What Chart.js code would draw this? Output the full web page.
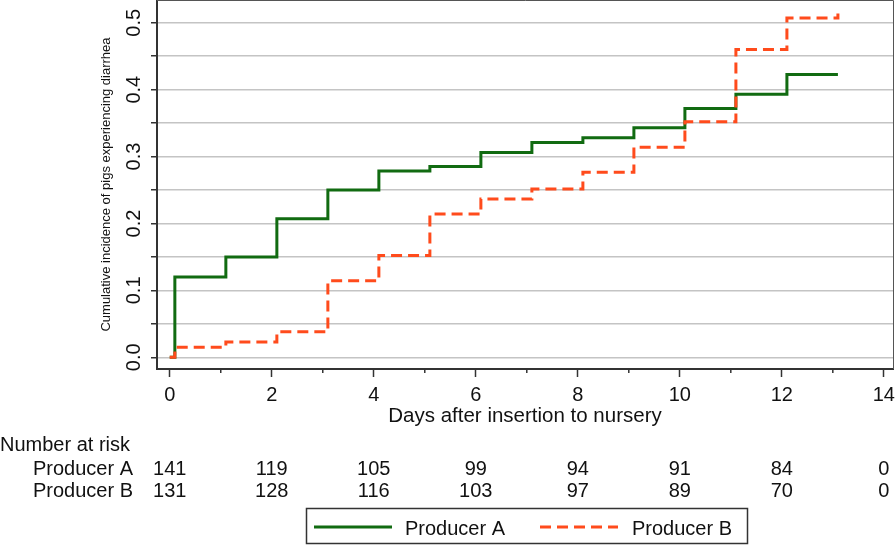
<!DOCTYPE html>
<html>
<head>
<meta charset="utf-8">
<script src="https://cdn.jsdelivr.net/npm/chart.js@4"></script>
<style>
  body { margin: 0; background: #fff; }
  #wrap { width: 896px; height: 547px; position: relative; }
</style>
</head>
<body>
<div id="wrap"><canvas id="kmChart"></canvas></div>
<script>
// data
const stepDays = [0, 0.1, 1.1, 2.1, 3.1, 4.1, 5.1, 6.1, 7.1, 8.1, 9.1, 10.1, 11.1, 12.1, 13.1];
const producerA = [0, 0.12, 0.15, 0.207, 0.25, 0.2785, 0.285, 0.306, 0.321, 0.328, 0.343, 0.372, 0.393, 0.4225, 0.4225];
const producerB = [0, 0.015, 0.023, 0.038, 0.1145, 0.152, 0.214, 0.2366, 0.2516, 0.2765, 0.314, 0.352, 0.46, 0.507, 0.514];

const xTicks = [0, 1, 2, 3, 4, 5, 6, 7, 8, 9, 10, 11, 12, 13, 14];
const yTicks = [0, 0.05, 0.1, 0.15, 0.2, 0.25, 0.3, 0.35, 0.4, 0.45, 0.5];
const yLabels = [0, 0.1, 0.2, 0.3, 0.4, 0.5];

const riskDays = [0, 2, 4, 6, 8, 10, 12, 14];
const riskA = [141, 119, 105, 99, 94, 91, 84, 0];
const riskB = [131, 128, 116, 103, 97, 89, 70, 0];

const FONT = '"Liberation Sans", Arial, sans-serif';
const GREEN = '#116b11';
const RED = '#ff4b1c';

function toPoints(xs, ys) {
    return xs.map((x, i) => ({ x: x, y: ys[i] }));
}

// extra drawing: rotated y labels, minor ticks, frame, risk table, legend
const extras = {
    id: 'extras',
    afterDraw(chart) {
        const ctx = chart.ctx;
        const xs = chart.scales.x;
        const ys = chart.scales.y;
        const area = chart.chartArea;
        ctx.save();

        // frame top / right
        ctx.strokeStyle = '#555';
        ctx.lineWidth = 1;
        ctx.beginPath();
        ctx.moveTo(area.left, 0.5);
        ctx.lineTo(area.right + 0.5, 0.5);
        ctx.lineTo(area.right + 0.5, area.bottom);
        ctx.stroke();

        // minor x ticks
        ctx.strokeStyle = '#333';
        ctx.lineWidth = 1.5;
        xTicks.filter(v => v % 2 === 1).forEach(v => {
            const px = xs.getPixelForValue(v);
            ctx.beginPath();
            ctx.moveTo(px, area.bottom);
            ctx.lineTo(px, area.bottom + 4);
            ctx.stroke();
        });

        // y tick labels, rotated
        ctx.fillStyle = '#111';
        ctx.font = '20px ' + FONT;
        ctx.textAlign = 'center';
        ctx.textBaseline = 'middle';
        yLabels.forEach(v => {
            const py = ys.getPixelForValue(v);
            ctx.save();
            ctx.translate(134, py);
            ctx.rotate(-Math.PI / 2);
            ctx.fillText(v.toFixed(1), 0, 0);
            ctx.restore();
        });

        // number at risk table
        ctx.textBaseline = 'alphabetic';
        ctx.textAlign = 'left';
        ctx.fillText('Number at risk', 0, 451);
        ctx.textAlign = 'right';
        ctx.fillText('Producer A', 133, 475);
        ctx.fillText('Producer B', 133, 497);
        ctx.textAlign = 'center';
        riskDays.forEach((d, i) => {
            const px = xs.getPixelForValue(d);
            ctx.fillText(String(riskA[i]), px, 475);
            ctx.fillText(String(riskB[i]), px, 497);
        });

        // legend box
        ctx.strokeStyle = '#333';
        ctx.lineWidth = 1.5;
        ctx.strokeRect(306.5, 508.5, 441, 35);
        const items = [
            { ds: chart.data.datasets[0], x0: 314, x1: 392, tx: 405 },
            { ds: chart.data.datasets[1], x0: 540, x1: 618, tx: 632 }
        ];
        ctx.textAlign = 'left';
        items.forEach(it => {
            ctx.strokeStyle = it.ds.borderColor;
            ctx.lineWidth = 3;
            ctx.setLineDash(it.ds.borderDash || []);
            ctx.beginPath();
            ctx.moveTo(it.x0, 527);
            ctx.lineTo(it.x1, 527);
            ctx.stroke();
            ctx.setLineDash([]);
            ctx.fillStyle = '#111';
            ctx.fillText(it.ds.label, it.tx, 535);
        });
        ctx.restore();
    }
};

new Chart(document.getElementById('kmChart').getContext('2d'), {
    type: 'line',
    data: {
        datasets: [{
            label: 'Producer A',
            data: toPoints(stepDays, producerA),
            borderColor: GREEN,
            borderWidth: 3,
            stepped: 'before',
            pointRadius: 0,
            fill: false,
            order: 2
        }, {
            label: 'Producer B',
            data: toPoints(stepDays, producerB),
            borderColor: RED,
            borderWidth: 3,
            borderDash: [11, 6],
            stepped: 'before',
            pointRadius: 0,
            fill: false,
            order: 1
        }]
    },
    options: {
        responsive: true,
        maintainAspectRatio: false,
        animation: false,
        layout: { padding: { top: 0, right: 3, left: 0, bottom: 118 } },
        plugins: {
            legend: { display: false },
            tooltip: { enabled: false }
        },
        scales: {
            x: {
                type: 'linear',
                min: -0.25,
                max: 14.18,
                afterBuildTicks: scale => { scale.ticks = xTicks.map(v => ({ value: v })); },
                afterFit: scale => {
                    scale.height = 60;
                    scale.paddingLeft = 0;
                    scale.paddingRight = 0;
                },
                grid: {
                    drawOnChartArea: false,
                    tickLength: 8,
                    tickWidth: 1.5,
                    tickColor: c => (c.tick && c.tick.value % 2 === 1) ? 'rgba(0,0,0,0)' : '#333'
                },
                border: { color: '#333', width: 2 },
                ticks: {
                    padding: 6,
                    maxRotation: 0,
                    color: '#111',
                    font: { family: FONT, size: 20 },
                    callback: v => (v % 2 === 0 ? String(v) : '')
                },
                title: {
                    display: true,
                    text: 'Days after insertion to nursery',
                    color: '#111',
                    font: { family: FONT, size: 20.5 },
                    padding: { top: 0, bottom: 0 }
                }
            },
            y: {
                type: 'linear',
                min: -0.0175,
                max: 0.534,
                afterBuildTicks: scale => { scale.ticks = yTicks.map(v => ({ value: v })); },
                afterFit: scale => { scale.width = 157; },
                grid: {
                    color: '#c4c4c4',
                    lineWidth: 1.5,
                    tickLength: 6,
                    tickColor: '#333',
                    tickWidth: 1.5
                },
                border: { color: '#333', width: 2 },
                ticks: { display: false },
                title: {
                    display: true,
                    text: 'Cumulative incidence of pigs experiencing diarrhea',
                    color: '#111',
                    font: { family: FONT, size: 13 },
                    padding: { top: 99, bottom: 0 }
                }
            }
        }
    },
    plugins: [extras]
});
</script>
</body>
</html>
